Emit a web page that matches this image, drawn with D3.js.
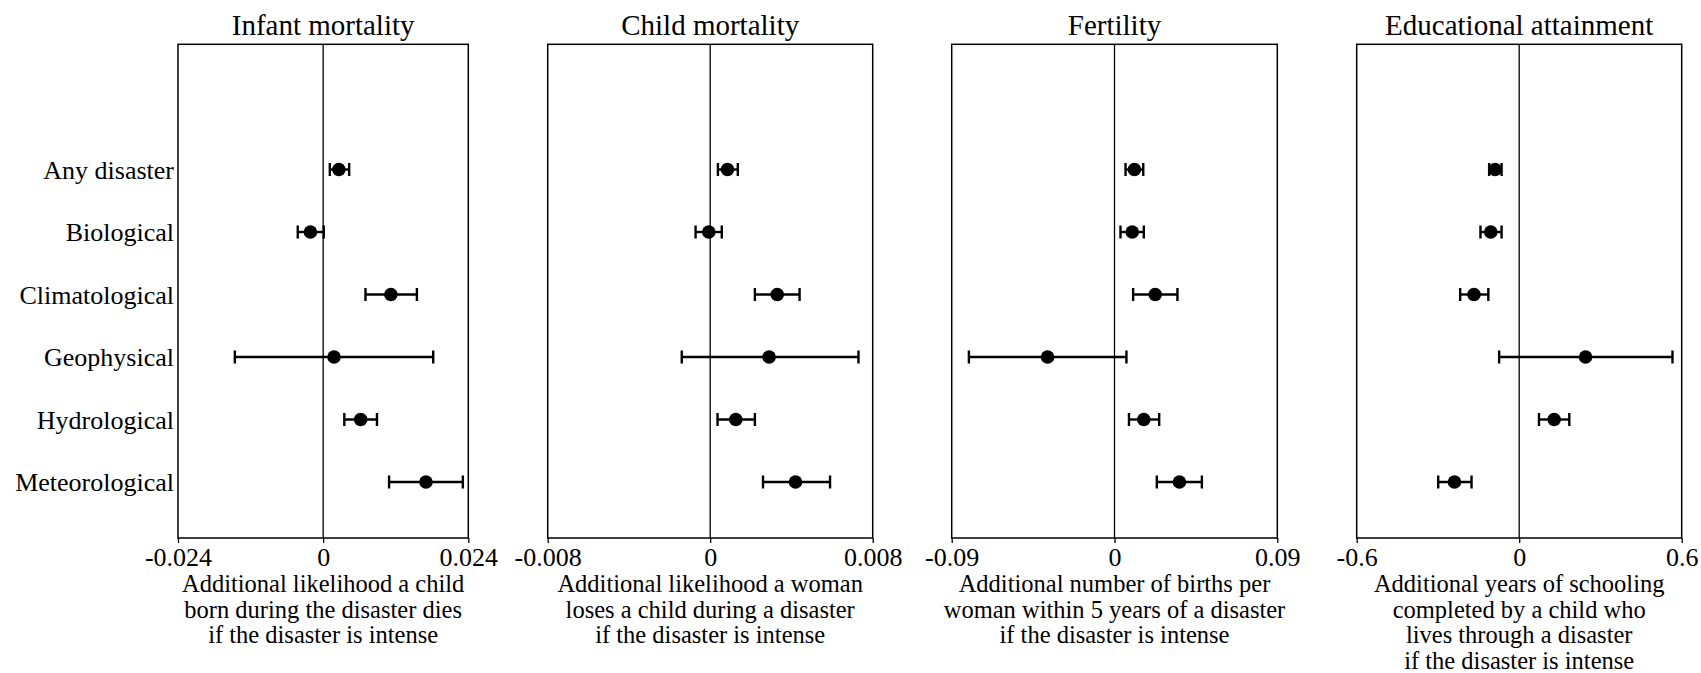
<!DOCTYPE html>
<html>
<head>
<meta charset="utf-8">
<script src="https://cdn.jsdelivr.net/npm/d3@7"></script>
<style>
  html, body { margin: 0; padding: 0; background: #fff; }
  svg { display: block; }
  svg text { font-family: 'Liberation Serif', 'DejaVu Serif', serif !important; }
</style>
</head>
<body>
<svg id="chart" width="1701" height="673"></svg>
<script>
// ---- Data ----
const categories = ["Any disaster", "Biological", "Climatological", "Geophysical", "Hydrological", "Meteorological"];

const panelTitles = ["Infant mortality", "Child mortality", "Fertility", "Educational attainment"];

const infantEst = [0.0026, -0.0021, 0.0112, 0.0018, 0.0062, 0.0170];
const infantLo  = [0.0011, -0.0042, 0.0070, -0.0146, 0.0035, 0.0109];
const infantHi  = [0.0043, 0.0001, 0.0155, 0.0182, 0.0089, 0.0231];

const childEst = [0.00085, -0.00007, 0.0033, 0.0029, 0.00126, 0.0042];
const childLo  = [0.00038, -0.00072, 0.0022, -0.0014, 0.00036, 0.0026];
const childHi  = [0.00136, 0.00057, 0.0044, 0.0073, 0.0022, 0.0059];

const fertEst = [0.0110, 0.0098, 0.0225, -0.0370, 0.0162, 0.0359];
const fertLo  = [0.0061, 0.0033, 0.0103, -0.0805, 0.0080, 0.0234];
const fertHi  = [0.0159, 0.0162, 0.0348, 0.0066, 0.0247, 0.0483];

const eduEst = [-0.089, -0.105, -0.167, 0.245, 0.129, -0.239];
const eduLo  = [-0.111, -0.143, -0.218, -0.074, 0.073, -0.299];
const eduHi  = [-0.065, -0.065, -0.114, 0.566, 0.185, -0.176];

const infantTicks = [-0.024, 0, 0.024];
const childTicks  = [-0.008, 0, 0.008];
const fertTicks   = [-0.09, 0, 0.09];
const eduTicks    = [-0.6, 0, 0.6];

const infantTickLabels = ["-0.024", "0", "0.024"];
const childTickLabels  = ["-0.008", "0", "0.008"];
const fertTickLabels   = ["-0.09", "0", "0.09"];
const eduTickLabels    = ["-0.6", "0", "0.6"];

const infantAxisTitle = ["Additional likelihood a child", "born during the disaster dies", "if the disaster is intense"];
const childAxisTitle  = ["Additional likelihood a woman", "loses a child during a disaster", "if the disaster is intense"];
const fertAxisTitle   = ["Additional number of births per", "woman within 5 years of a disaster", "if the disaster is intense"];
const eduAxisTitle    = ["Additional years of schooling", "completed by a child who", "lives through a disaster", "if the disaster is intense"];

// ---- Layout ----
const FONT = "Liberation Serif";
const panels = [
  { title: panelTitles[0], est: infantEst, lo: infantLo, hi: infantHi, ticks: infantTicks, labels: infantTickLabels, axisTitle: infantAxisTitle, x0: 178, x1: 468.3 },
  { title: panelTitles[1], est: childEst,  lo: childLo,  hi: childHi,  ticks: childTicks,  labels: childTickLabels,  axisTitle: childAxisTitle,  x0: 547.7, x1: 872.7 },
  { title: panelTitles[2], est: fertEst,   lo: fertLo,   hi: fertHi,   ticks: fertTicks,   labels: fertTickLabels,   axisTitle: fertAxisTitle,   x0: 951.7, x1: 1277.3 },
  { title: panelTitles[3], est: eduEst,    lo: eduLo,    hi: eduHi,    ticks: eduTicks,    labels: eduTickLabels,    axisTitle: eduAxisTitle,    x0: 1356.7, x1: 1681.7 }
];

const boxTop = 44.3, boxBottom = 538;
const y = d3.scaleLinear().domain([0, categories.length - 1]).range([169.5, 482]);

const svg = d3.select("#chart").attr("font-family", FONT);

panels.forEach((p, pi) => {
  const ext = p.ticks[p.ticks.length - 1];
  const x = d3.scaleLinear().domain([-ext, ext]).range([p.x0, p.x1]);
  const g = svg.append("g");
  const cx = (p.x0 + p.x1) / 2;

  // title
  g.append("text")
    .attr("x", cx).attr("y", 35)
    .attr("text-anchor", "middle")
    .attr("font-family", FONT)
    .attr("font-size", 29)
    .attr("fill", "#000")
    .text(p.title);

  // zero line
  g.append("line")
    .attr("x1", x(0)).attr("x2", x(0))
    .attr("y1", boxTop).attr("y2", boxBottom)
    .attr("stroke", "#000").attr("stroke-width", 1.3);

  // box
  g.append("rect")
    .attr("x", p.x0).attr("y", boxTop)
    .attr("width", p.x1 - p.x0).attr("height", boxBottom - boxTop)
    .attr("fill", "none").attr("stroke", "#000").attr("stroke-width", 1.5);

  // x axis
  const axis = d3.axisBottom(x)
    .tickValues(p.ticks)
    .tickFormat((d, i) => p.labels[i])
    .tickSizeInner(5).tickSizeOuter(0).tickPadding(5);
  const ag = g.append("g").attr("transform", `translate(0,${boxBottom})`).call(axis);
  ag.attr("font-family", FONT).attr("font-size", 26);
  ag.select(".domain").remove();
  ag.selectAll(".tick line").attr("stroke", "#000").attr("stroke-width", 1.3);
  ag.selectAll(".tick text")
    .attr("font-size", 26)
    .attr("font-family", FONT)
    .attr("fill", "#000");

  // axis title
  g.append("text")
    .attr("text-anchor", "middle")
    .attr("font-family", FONT)
    .attr("font-size", 24.5)
    .attr("fill", "#000")
    .selectAll("tspan")
    .data(p.axisTitle)
    .join("tspan")
    .attr("x", cx)
    .attr("y", (d, i) => 592 + i * 25.5)
    .text(d => d);

  // row labels on first panel
  if (pi === 0) {
    g.selectAll("text.rowlab")
      .data(categories)
      .join("text")
      .attr("class", "rowlab")
      .attr("x", p.x0 - 4)
      .attr("y", (d, i) => y(i))
      .attr("dy", "0.35em")
      .attr("text-anchor", "end")
      .attr("font-family", FONT)
      .attr("font-size", 26)
      .attr("fill", "#000")
      .text(d => d);
  }

  const idx = d3.range(categories.length);
  // error bars
  g.selectAll("line.ci")
    .data(idx).join("line").attr("class", "ci")
    .attr("x1", i => x(p.lo[i])).attr("x2", i => x(p.hi[i]))
    .attr("y1", i => y(i)).attr("y2", i => y(i))
    .attr("stroke", "#000").attr("stroke-width", 2.4);
  g.selectAll("line.capl")
    .data(idx).join("line").attr("class", "capl")
    .attr("x1", i => x(p.lo[i])).attr("x2", i => x(p.lo[i]))
    .attr("y1", i => y(i) - 6.5).attr("y2", i => y(i) + 6.5)
    .attr("stroke", "#000").attr("stroke-width", 2.4);
  g.selectAll("line.caph")
    .data(idx).join("line").attr("class", "caph")
    .attr("x1", i => x(p.hi[i])).attr("x2", i => x(p.hi[i]))
    .attr("y1", i => y(i) - 6.5).attr("y2", i => y(i) + 6.5)
    .attr("stroke", "#000").attr("stroke-width", 2.4);
  // points
  g.selectAll("circle.pt")
    .data(idx).join("circle").attr("class", "pt")
    .attr("cx", i => x(p.est[i])).attr("cy", i => y(i))
    .attr("r", 6.8).attr("fill", "#000");
});
</script>
</body>
</html>
